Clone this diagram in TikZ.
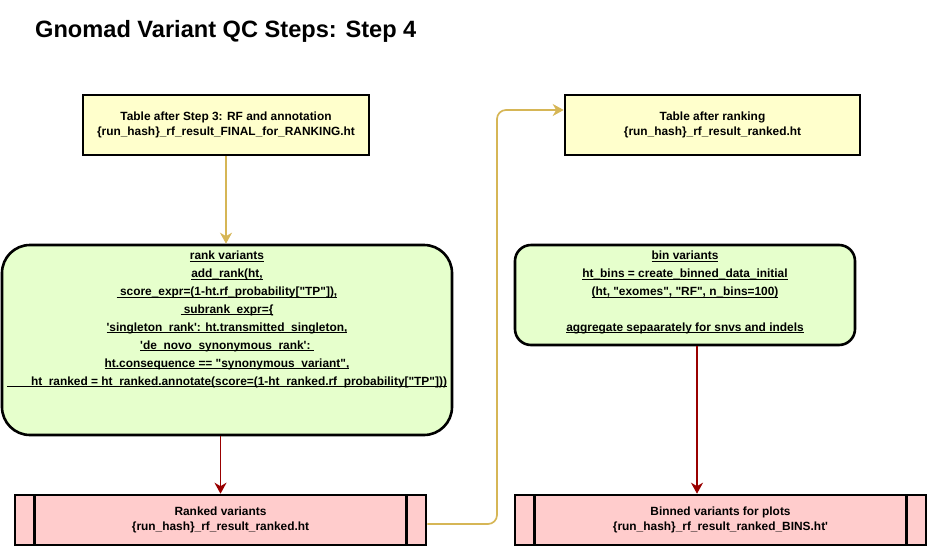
\documentclass[tikz,border=0pt]{standalone}
\usepackage{fontspec}
\setmainfont{Liberation Sans}
\usetikzlibrary{arrows.meta}
\definecolor{yfill}{HTML}{FFFFCC}
\definecolor{gfill}{HTML}{E6FFCC}
\definecolor{rfill}{HTML}{FFCCCC}
\definecolor{goldln}{HTML}{D6B656}
\definecolor{redln}{HTML}{990000}
\newcommand\myul[1]{\setbox0=\hbox{#1}\rlap{\rule[-1.8pt]{\wd0}{0.9pt}}\box0}
\newcommand\mydq{\textquotedbl}
\newcommand\mysq{\textquotesingle}
\tikzset{
  txt/.style={font=\bfseries\fontsize{11.9}{15}\selectfont, align=center},
  gtxt/.style={font=\bfseries\fontsize{11.9}{17.9}\selectfont, align=center, inner sep=0pt},
  tablebox/.style={draw=black, line width=2.6pt, fill=yfill, txt},
  greenbox/.style={draw=black, line width=2.6pt, fill=gfill},
  procbox/.style={draw=black, line width=2.6pt, fill=rfill, txt,
    path picture={
      \draw[line width=2.6pt] ([xshift=19.5pt]path picture bounding box.north west) -- ([xshift=19.5pt]path picture bounding box.south west);
      \draw[line width=2.6pt] ([xshift=-19.5pt]path picture bounding box.north east) -- ([xshift=-19.5pt]path picture bounding box.south east);
    }},
  goldarrow/.style={draw=goldln, line width=1.7pt, -{Stealth[length=11pt,width=12pt,inset=3.5pt]}},
  redarrow/.style={draw=redln, line width=1.7pt, -{Stealth[length=11pt,width=12pt,inset=3.5pt]}},
}
\begin{document}
\begin{tikzpicture}[x=1pt,y=-1pt]
\useasboundingbox (0,0) rectangle (927,547);

\node[anchor=west, font=\bfseries\fontsize{23.6}{28}\selectfont, inner sep=0pt] (title) at (35,31) {Gnomad Variant QC Steps: Step 4};

\node[tablebox, minimum width=286pt, minimum height=60pt] (t3) at (226,125)
  {Table after Step 3: RF and annotation\\\{run\_hash\}\_rf\_result\_FINAL\_for\_RANKING.ht};
\node[tablebox, minimum width=295pt, minimum height=60pt] (tr) at (712.5,125)
  {Table after ranking\\\{run\_hash\}\_rf\_result\_ranked.ht};

\node[greenbox, rounded corners=28pt, minimum width=450pt, minimum height=190pt] (rank) at (227,340) {};
\node[gtxt, anchor=north] (rankt) at (227,251) {%
\myul{rank variants}\\
\myul{add\_rank(ht,}\\
\myul{\ score\_expr=(1-ht.rf\_probability[\mydq TP\mydq]),}\\
\myul{\ subrank\_expr=\{}\\
\myul{\mysq singleton\_rank\mysq: ht.transmitted\_singleton,}\\
\myul{\mysq de\_novo\_synonymous\_rank\mysq:\ }\\
\myul{ht.consequence == \mydq synonymous\_variant\mydq,}\\
\myul{\hspace{24pt}ht\_ranked = ht\_ranked.annotate(score=(1-ht\_ranked.rf\_probability[\mydq TP\mydq]))}};

\node[greenbox, rounded corners=16pt, minimum width=340pt, minimum height=100pt] (bin) at (685,295) {};
\node[gtxt, anchor=north] (bint) at (685,251) {%
\myul{bin variants}\\
\myul{ht\_bins = create\_binned\_data\_initial}\\
\myul{(ht, \mydq exomes\mydq, \mydq RF\mydq, n\_bins=100)}\\[17.9pt]
\myul{aggregate sepaarately for snvs and indels}};

\node[procbox, minimum width=411pt, minimum height=50pt] (ranked) at (220.5,520)
  {Ranked variants\\\{run\_hash\}\_rf\_result\_ranked.ht};
\node[procbox, minimum width=411pt, minimum height=50pt] (binned) at (720.5,520)
  {Binned variants for plots\\\{run\_hash\}\_rf\_result\_ranked\_BINS.ht\mysq};

\coordinate (g1) at (497,524);
\coordinate (g2) at (497,110);

\draw[goldarrow] (t3.south) -- (t3.south |- rank.north);
\draw[redarrow] (rank.south -| ranked.north) -- (ranked.north);
\draw[redarrow] ([xshift=12pt]bin.south) -- ([xshift=12pt]bin.south |- binned.north);
\draw[goldarrow, rounded corners=9pt] ([yshift=-4pt]ranked.east) -- (g1) -- (g2) -- ([yshift=15pt]tr.west);
\end{tikzpicture}
\end{document}
